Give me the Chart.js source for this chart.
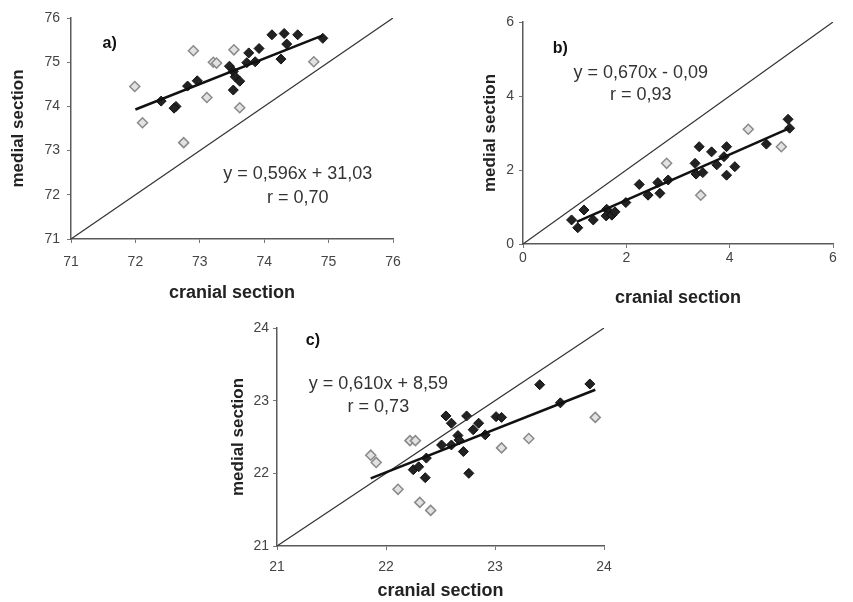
<!DOCTYPE html>
<html>
<head>
<meta charset="utf-8">
<script src="https://cdn.jsdelivr.net/npm/chart.js@4.4.0/dist/chart.umd.min.js"></script>
<style>
  body { margin: 0; background: #fff; width: 853px; height: 602px; overflow: hidden; position: relative; }
  canvas { position: absolute; }
</style>
</head>
<body>
<canvas id="panelA" width="430" height="305" style="left:0px;top:0px"></canvas>
<canvas id="panelB" width="413" height="310" style="left:440px;top:0px"></canvas>
<canvas id="panelC" width="440" height="302" style="left:200px;top:300px"></canvas>
<script>
// Panel a) values
const aFilledX = [72.40, 72.63, 72.60, 72.81, 72.96, 73.46, 73.52, 73.55, 73.62, 73.52, 73.76, 73.92, 73.73, 73.86, 74.12, 74.31, 74.52, 74.35, 74.26, 74.91];
const aFilledY = [74.12, 74.00, 73.96, 74.46, 74.58, 74.91, 74.79, 74.67, 74.57, 74.37, 75.21, 75.31, 74.99, 75.01, 75.62, 75.65, 75.62, 75.41, 75.07, 75.54];
const aOpenX = [71.99, 72.11, 72.90, 73.21, 73.26, 73.11, 73.53, 73.62, 72.75, 74.77];
const aOpenY = [74.45, 73.63, 75.26, 75.00, 74.98, 74.20, 75.28, 73.97, 73.18, 75.01];
const aTrendX = [72.0, 74.9];
const aTrendY = [73.93, 75.60];
const aTicks = [71, 72, 73, 74, 75, 76];

// Panel b)
const bFilledX = [0.94, 1.06, 1.18, 1.36, 1.62, 1.61, 1.72, 1.78, 1.99, 2.25, 2.42, 2.61, 2.65, 2.81, 3.33, 3.41, 3.35, 3.48, 3.65, 3.75, 3.94, 3.94, 3.89, 4.10, 4.71, 5.13, 5.16];
const bFilledY = [0.65, 0.44, 0.92, 0.65, 0.94, 0.76, 0.78, 0.87, 1.12, 1.61, 1.32, 1.66, 1.37, 1.73, 2.18, 2.63, 1.89, 1.93, 2.49, 2.14, 2.63, 1.86, 2.36, 2.09, 2.70, 3.37, 3.13];
const bOpenX = [2.78, 3.44, 4.36, 5.00];
const bOpenY = [2.18, 1.32, 3.10, 2.63];
const bTrendX = [1.04, 5.16];
const bTrendY = [0.60, 3.13];
const bTicks = [0, 2, 4, 6];

// Panel c)
const cFilledX = [22.25, 22.30, 22.37, 22.36, 22.51, 22.55, 22.60, 22.60, 22.66, 22.67, 22.71, 22.74, 22.76, 22.80, 22.85, 22.91, 23.01, 23.06, 23.41, 23.60, 23.87];
const cFilledY = [22.05, 22.09, 22.21, 21.94, 22.39, 22.79, 22.69, 22.39, 22.52, 22.46, 22.30, 22.79, 22.00, 22.60, 22.69, 22.53, 22.78, 22.77, 23.22, 22.97, 23.23];
const cOpenX = [21.86, 21.91, 22.22, 22.27, 22.11, 22.31, 22.41, 23.06, 23.31, 23.92];
const cOpenY = [22.25, 22.15, 22.45, 22.45, 21.78, 21.60, 21.49, 22.35, 22.48, 22.77];
const cTrendX = [21.86, 23.92];
const cTrendY = [21.93, 23.15];
const cTicks = [21, 22, 23, 24];

const FONT = '"Liberation Sans", Arial, sans-serif';

// pairs x and y arrays into {x, y} points
function pts(xs, ys) {
  return xs.map((x, i) => ({ x: x, y: ys[i] }));
}

// writes the equation and panel letter at data coordinates
const notesPlugin = {
  id: 'notes',
  afterDatasetsDraw(chart, args, opts) {
    const ctx = chart.ctx;
    const sx = chart.scales.x, sy = chart.scales.y;
    ctx.save();
    ctx.textAlign = 'center';
    ctx.textBaseline = 'middle';
    (opts.items || []).forEach(n => {
      ctx.font = (n.bold ? 'bold ' : '') + n.size + 'px ' + FONT;
      ctx.fillStyle = n.color || '#333';
      ctx.fillText(n.text, sx.getPixelForValue(n.x), sy.getPixelForValue(n.y));
    });
    ctx.restore();
  }
};

function makePanel(id, p) {
  const lo = p.ticks[0], hi = p.ticks[p.ticks.length - 1];
  const step = p.ticks[1] - p.ticks[0];
  const axis = (size, tickPad, titlePad, titleSize) => ({
    type: 'linear',
    min: lo,
    max: hi,
    afterBuildTicks: s => { s.ticks = p.ticks.map(v => ({ value: v })); },
    afterFit: s => { if (s.isHorizontal()) s.height = size; else s.width = size; },
    grid: { drawOnChartArea: false, drawTicks: true, tickLength: 4, color: '#777' },
    border: { display: true, color: '#5a5a5a', width: 1.5 },
    ticks: { stepSize: step, padding: tickPad, color: '#444', font: { family: FONT, size: 14 } },
    title: { display: true, text: '', color: '#222', padding: titlePad, font: { family: FONT, size: titleSize, weight: 'bold' } }
  });
  const xAxis = axis(p.xHeight, p.xTickPad, { top: 0, bottom: p.xTitlePad }, 18);
  xAxis.title.text = 'cranial section';
  const yAxis = axis(p.yWidth, p.yTickPad, { top: p.yTitlePad, bottom: 0 }, 17);
  yAxis.title.text = 'medial section';

  new Chart(document.getElementById(id), {
    type: 'scatter',
    data: {
      datasets: [
        { data: pts(p.trendX, p.trendY), showLine: true, borderColor: '#111', borderWidth: 2.5, pointRadius: 0 },
        { data: pts([lo, hi], [lo, hi]), showLine: true, borderColor: '#333', borderWidth: 1.2, pointRadius: 0 },
        { data: pts(p.filledX, p.filledY), pointStyle: 'rectRot', pointRadius: 5, backgroundColor: '#222', borderColor: '#111', borderWidth: 1 },
        { data: pts(p.openX, p.openY), pointStyle: 'rectRot', pointRadius: 5, backgroundColor: '#e2e2e2', borderColor: '#8a8a8a', borderWidth: 1.5 }
      ]
    },
    options: {
      responsive: false,
      animation: false,
      layout: { padding: p.padding },
      plugins: {
        legend: { display: false },
        tooltip: { enabled: false },
        notes: { items: p.notes }
      },
      scales: { x: xAxis, y: yAxis }
    },
    plugins: [notesPlugin]
  });
}

makePanel('panelA', {
  ticks: aTicks, filledX: aFilledX, filledY: aFilledY, openX: aOpenX, openY: aOpenY, trendX: aTrendX, trendY: aTrendY,
  padding: { top: 18, right: 37, left: 0, bottom: 0 },
  yWidth: 71, xHeight: 66, yTickPad: 7, xTickPad: 11, yTitlePad: 8, xTitlePad: 1,
  notes: [
    { text: 'a)', x: 71.6, y: 75.41, size: 16, bold: true, color: '#111' },
    { text: 'y = 0,596x + 31,03', x: 74.52, y: 72.46, size: 18 },
    { text: 'r = 0,70', x: 74.52, y: 71.93, size: 18 }
  ]
});

makePanel('panelB', {
  ticks: bTicks, filledX: bFilledX, filledY: bFilledY, openX: bOpenX, openY: bOpenY, trendX: bTrendX, trendY: bTrendY,
  padding: { top: 22, right: 20, left: 0, bottom: 0 },
  yWidth: 83, xHeight: 66, yTickPad: 5, xTickPad: 2, yTitlePad: 40, xTitlePad: 1,
  notes: [
    { text: 'b)', x: 0.72, y: 5.27, size: 16, bold: true, color: '#111' },
    { text: 'y = 0,670x - 0,09', x: 2.28, y: 4.63, size: 18 },
    { text: 'r = 0,93', x: 2.28, y: 4.03, size: 18 }
  ]
});

makePanel('panelC', {
  ticks: cTicks, filledX: cFilledX, filledY: cFilledY, openX: cOpenX, openY: cOpenY, trendX: cTrendX, trendY: cTrendY,
  padding: { top: 28, right: 36, left: 0, bottom: 0 },
  yWidth: 77, xHeight: 56, yTickPad: 4, xTickPad: 9, yTitlePad: 28, xTitlePad: 0,
  notes: [
    { text: 'c)', x: 21.33, y: 23.82, size: 16, bold: true, color: '#111' },
    { text: 'y = 0,610x + 8,59', x: 21.93, y: 23.23, size: 18 },
    { text: 'r = 0,73', x: 21.93, y: 22.91, size: 18 }
  ]
});
</script>
</body>
</html>
